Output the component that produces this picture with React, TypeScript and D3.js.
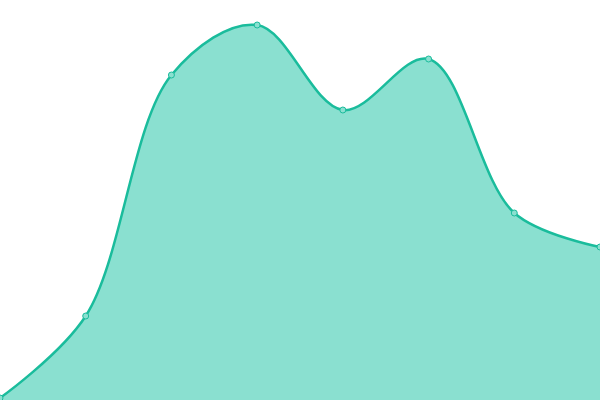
import React from "react";
import * as d3 from "d3";

const categories = ["A", "B", "C", "D", "E", "F", "G", "H"];
const values = [2, 84, 325, 375, 290, 341, 187, 153];

const W = 600;
const H = 400;

export default function App() {
  const x = d3.scalePoint<string>().domain(categories).range([0, W]);
  const y = d3.scaleLinear().domain([0, 400]).range([H, 0]);
  const data = categories.map((c, i) => ({ c, v: values[i] }));
  const area = d3
    .area<{ c: string; v: number }>()
    .x((d) => x(d.c) as number)
    .y0(H)
    .y1((d) => y(d.v))
    .curve(d3.curveCatmullRom.alpha(0.5));
  const line = d3
    .line<{ c: string; v: number }>()
    .x((d) => x(d.c) as number)
    .y((d) => y(d.v))
    .curve(d3.curveCatmullRom.alpha(0.5));
  return (
    <svg
      width={W}
      height={H}
      style={{ position: "fixed", left: 0, top: 0, display: "block", background: "#fff" }}
    >
      <path d={area(data) || ""} fill="#8ae0d0" stroke="none" />
      <path d={line(data) || ""} fill="none" stroke="#1abc9c" strokeWidth={2.5} />
      {data.map((d) => (
        <circle
          key={d.c}
          cx={x(d.c) as number}
          cy={y(d.v)}
          r={3}
          fill="#8ae0d0"
          stroke="#1abc9c"
          strokeWidth={1}
        />
      ))}
    </svg>
  );
}
